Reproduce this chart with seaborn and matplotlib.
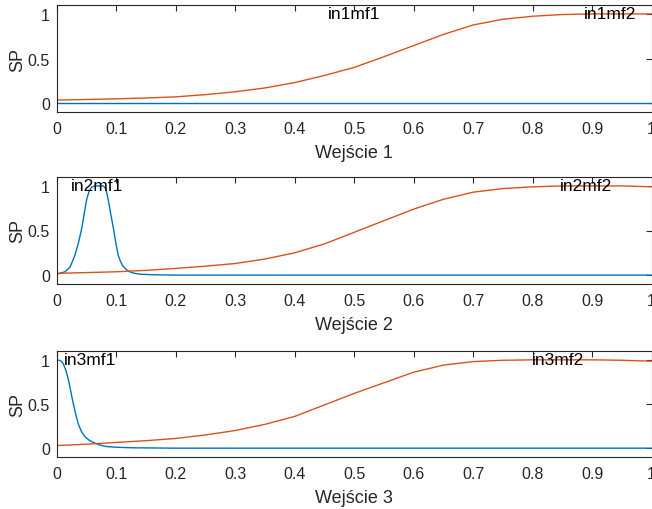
import numpy as np
import pandas as pd
import matplotlib
matplotlib.use("Agg")
import matplotlib.pyplot as plt
import seaborn as sns

# ---- data ----
grid = [0.0, 0.05, 0.1, 0.15, 0.2, 0.25, 0.3, 0.35, 0.4, 0.45, 0.5,
        0.55, 0.6, 0.65, 0.7, 0.75, 0.8, 0.85, 0.9, 0.95, 1.0]

in1_mf1_x = [0.0, 1.0]
in1_mf1_y = [0.0, 0.0]
in1_mf2_x = grid
in1_mf2_y = [0.034, 0.040, 0.048, 0.057, 0.070, 0.095, 0.127, 0.17, 0.23, 0.31, 0.40,
             0.52, 0.645, 0.77, 0.876, 0.94, 0.974, 0.993, 1.0, 1.0, 1.0]

in2_mf1_x = [0.0, 0.0134, 0.022, 0.03, 0.036, 0.0415, 0.046, 0.05, 0.054, 0.058, 0.064,
             0.071, 0.078, 0.082, 0.086, 0.09, 0.095, 0.099, 0.103, 0.107, 0.111,
             0.117, 0.123, 0.13, 0.14, 0.16, 0.2, 1.0]
in2_mf1_y = [0.01, 0.037, 0.09, 0.22, 0.36, 0.52, 0.70, 0.85, 0.94, 0.985, 1.0,
             1.0, 1.0, 0.97, 0.85, 0.70, 0.52, 0.36, 0.22, 0.15, 0.10,
             0.06, 0.035, 0.02, 0.01, 0.004, 0.0, 0.0]
in2_mf2_x = grid
in2_mf2_y = [0.02, 0.028, 0.037, 0.053, 0.075, 0.10, 0.13, 0.18, 0.25, 0.35, 0.48,
             0.61, 0.74, 0.85, 0.93, 0.97, 0.99, 1.0, 1.0, 1.0, 0.99]

in3_mf1_x = [0.0, 0.006, 0.0106, 0.015, 0.019, 0.023, 0.0275, 0.032, 0.036, 0.041,
             0.047, 0.054, 0.061, 0.07, 0.081, 0.1, 0.13, 0.2, 1.0]
in3_mf1_y = [1.0, 0.99, 0.955, 0.88, 0.78, 0.65, 0.50, 0.37, 0.27, 0.19,
             0.13, 0.09, 0.065, 0.04, 0.02, 0.01, 0.004, 0.0, 0.0]
in3_mf2_x = grid
in3_mf2_y = [0.03, 0.045, 0.065, 0.085, 0.11, 0.15, 0.20, 0.27, 0.36, 0.49, 0.62,
             0.74, 0.86, 0.94, 0.98, 0.995, 1.0, 1.0, 1.0, 0.995, 0.985]

mf_names = [["in1mf1", "in1mf2"], ["in2mf1", "in2mf2"], ["in3mf1", "in3mf2"]]
mf_label_x = [[0.50, 0.93], [0.067, 0.89], [0.055, 0.842]]
xlabels = ["Wejście 1", "Wejście 2", "Wejście 3"]
ylabel = "SP"
xticks = [0, 0.1, 0.2, 0.3, 0.4, 0.5, 0.6, 0.7, 0.8, 0.9, 1.0]
xtick_labels = ["0", "0.1", "0.2", "0.3", "0.4", "0.5", "0.6", "0.7", "0.8", "0.9", "1"]
yticks = [0, 0.5, 1]
ytick_labels = ["0", "0.5", "1"]

series = [
    [(in1_mf1_x, in1_mf1_y), (in1_mf2_x, in1_mf2_y)],
    [(in2_mf1_x, in2_mf1_y), (in2_mf2_x, in2_mf2_y)],
    [(in3_mf1_x, in3_mf1_y), (in3_mf2_x, in3_mf2_y)],
]

# ---- style ----
sns.set_style("white")
plt.rcParams["font.family"] = ["Liberation Sans", "DejaVu Sans"]
dark = "#262626"
colors = ["#0072BD", "#D95319"]

fig = plt.figure(figsize=(6.52, 5.10), dpi=100)
W, H = 652.0, 510.0
left = 57 / W
width = 594.5 / W
boxes = [(6, 113), (178, 285), (352, 458)]

for i, (top, bot) in enumerate(boxes):
    ax = fig.add_axes([left, (H - bot) / H, width, (bot - top) / H])
    for j, (xs, ys) in enumerate(series[i]):
        df = pd.DataFrame({"x": xs, "y": ys})
        sns.lineplot(data=df, x="x", y="y", ax=ax, color=colors[j],
                     linewidth=1.0, estimator=None, sort=False)
        ax.text(mf_label_x[i][j], 1.005, mf_names[i][j], ha="center", va="center",
                fontsize=12.5, color="black")
    ax.set_xlim(0, 1)
    ax.set_ylim(-0.1, 1.1)
    ax.set_xticks(xticks)
    ax.set_xticklabels(xtick_labels)
    ax.set_yticks(yticks)
    ax.set_yticklabels(ytick_labels)
    ax.tick_params(direction="in", length=4.5, width=0.8, color=dark,
                   labelcolor=dark, labelsize=11.5, top=True, right=True)
    ax.tick_params(axis="x", pad=6.5)
    ax.tick_params(axis="y", pad=5)
    for s in ax.spines.values():
        s.set_visible(True)
        s.set_color(dark)
        s.set_linewidth(0.8)
    ax.set_xlabel(xlabels[i], fontsize=13, color=dark, labelpad=6)
    ax.set_ylabel(ylabel, fontsize=13, color=dark, labelpad=1)

fig.savefig("out.png", dpi=100)
